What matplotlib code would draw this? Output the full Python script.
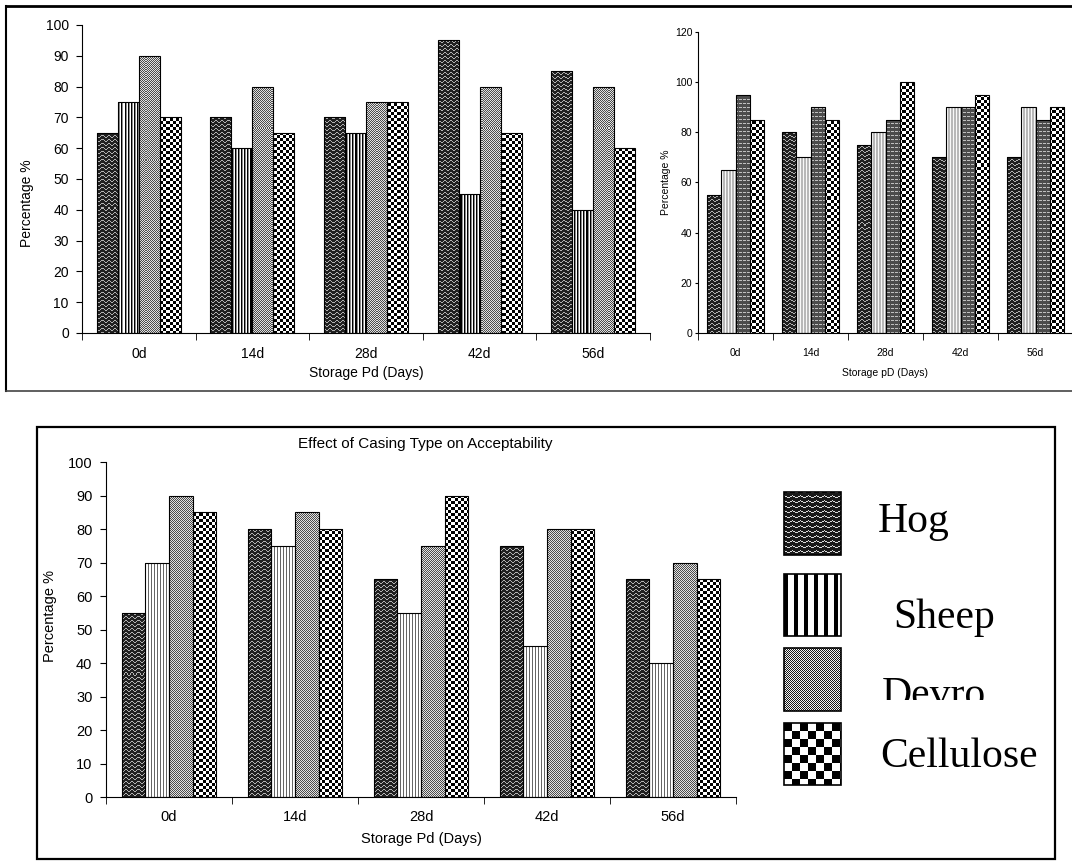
import numpy as np
import matplotlib
matplotlib.use('Agg')
import matplotlib.pyplot as plt
from matplotlib.patches import Rectangle
from matplotlib.lines import Line2D
from matplotlib.transforms import Affine2D, Bbox, TransformedBbox

plt.rcParams['font.family'] = ['Liberation Sans', 'DejaVu Sans']

days = ['0d', '14d', '28d', '42d', '56d']
casings = ['Hog', 'Sheep', 'Devro', 'Cellulose']

# top left chart
hog_a = [65, 70, 70, 95, 85]
sheep_a = [75, 60, 65, 45, 40]
devro_a = [90, 80, 75, 80, 80]
cell_a = [70, 65, 75, 65, 60]

# top right chart
hog_b = [55, 80, 75, 70, 70]
sheep_b = [65, 70, 80, 90, 90]
devro_b = [95, 90, 85, 90, 85]
cell_b = [85, 85, 100, 95, 90]

# bottom chart
hog_c = [55, 80, 65, 75, 65]
sheep_c = [70, 75, 55, 45, 40]
devro_c = [90, 85, 75, 80, 70]
cell_c = [85, 80, 90, 80, 65]

W, H = 1072, 863
fig = plt.figure(figsize=(W / 100, H / 100), dpi=100)
# pixel coords measured from the top left corner
px = Affine2D().scale(1 / W, -1 / H).translate(0, 1) + fig.transFigure


def texture(kind, h, w):
    # grey-level fill patterns like the old excel bar fills
    r, c = np.mgrid[0:h, 0:w]
    if kind == 'wave':
        img = np.full((h, w), 0.13)
        wave = np.round(np.sin(c * 2 * np.pi / 6)).astype(int)
        img[(r + wave) % 4 == 0] = 0.7
    elif kind == 'wave_big':
        img = np.full((h, w), 0.1)
        zig = np.abs((c % 8) - 4) // 2
        img[(r + zig) % 5 == 0] = 0.85
    elif kind == 'vlines':
        img = np.select([c % 3 == 0, c % 3 == 1], [0.0, 0.55], 1.0)
    elif kind == 'vlines_light':
        img = np.where(c % 3 == 0, 0.97, 0.72)
    elif kind == 'vlines_thin':
        img = np.where(c % 3 == 0, 0.4, 1.0)
    elif kind == 'stripes':
        img = np.where(c % 10 < 4, 0.0, 1.0)
    elif kind == 'dots':
        img = np.where((r + c) % 2 == 0, 0.3, 0.88)
    elif kind == 'dots_bw':
        img = np.where((r + c) % 2 == 0, 0.1, 0.95)
    elif kind == 'hdash':
        img = np.full((h, w), 0.3)
        img[(r % 4 == 0) & (c % 4 != 3)] = 0.75
    elif kind == 'checker':
        img = np.where((r // 3 + c // 3) % 2 == 0, 0.0, 1.0)
    elif kind == 'checker_big':
        img = np.where((r // 8 + c // 8) % 2 == 0, 0.0, 1.0)
    else:
        img = np.ones((h, w))
    return img


def draw_chart(rect, series, kinds, ymax, step, xlabel, fs, tick_kw, width=0.185):
    l, t, r, b = rect
    ax = fig.add_axes([l / W, 1 - b / H, (r - l) / W, (b - t) / H])
    n = len(days)
    x = np.arange(n)
    hpx, wpx = b - t, r - l
    ext = (-0.5, n - 0.5, 0, ymax)
    for i, (vals, kind) in enumerate(zip(series, kinds)):
        bars = ax.bar(x + (i - 1.5) * width, vals, width, facecolor='none',
                      edgecolor='black', lw=0.8, zorder=3)
        tex = texture(kind, hpx, wpx)
        for bar in bars:
            im = ax.imshow(tex, cmap='gray', vmin=0, vmax=1, extent=ext,
                           aspect='auto', interpolation='nearest', zorder=2)
            im.set_clip_path(bar)
    ax.set_xlim(-0.5, n - 0.5)
    ax.set_ylim(0, ymax)
    ax.set_xticks(x, days)
    ax.set_xticks(np.arange(n + 1) - 0.5, minor=True)
    ax.set_yticks(np.arange(0, ymax + 1, step))
    ax.tick_params(axis='x', which='major', length=0, pad=tick_kw['xpad'], labelsize=fs)
    ax.tick_params(axis='x', which='minor', length=5, direction='out')
    ax.tick_params(axis='y', length=tick_kw['ylen'], pad=tick_kw['ypad'], labelsize=fs)
    ax.spines[['top', 'right']].set_visible(False)
    ax.set_xlabel(xlabel, fontsize=fs)
    ax.set_ylabel('Percentage %', fontsize=fs)
    ax.xaxis.set_label_coords(0.5, tick_kw['xlab'])
    ax.yaxis.set_label_coords(tick_kw['ylab_x'], tick_kw['ylab_y'])
    return ax


draw_chart((82, 25, 650, 333), [hog_a, sheep_a, devro_a, cell_a],
           ['wave', 'vlines', 'dots', 'checker'], 100, 10, 'Storage Pd (Days)', 10,
           dict(xpad=10, ylen=4, ypad=5.5, xlab=-0.107, ylab_x=-0.085, ylab_y=0.42))

draw_chart((698, 32, 1073, 333), [hog_b, sheep_b, devro_b, cell_b],
           ['wave', 'vlines_light', 'hdash', 'checker'], 120, 20, 'Storage pD (Days)', 7.5,
           dict(xpad=11, ylen=2.5, ypad=1.5, xlab=-0.116, ylab_x=-0.072, ylab_y=0.5),
           width=0.19)

draw_chart((106, 462, 736, 797), [hog_c, sheep_c, devro_c, cell_c],
           ['wave', 'vlines_thin', 'dots', 'checker'], 100, 10, 'Storage Pd (Days)', 10.5,
           dict(xpad=9.5, ylen=4.3, ypad=5.5, xlab=-0.104, ylab_x=-0.078, ylab_y=0.54),
           width=0.1875)

fig.text(425, 444, 'Effect of Casing Type on Acceptability', transform=px,
         ha='center', va='center', fontsize=11)

# frames around the pasted charts
fig.add_artist(Line2D([6, 1072], [6, 6], transform=px, color='black', lw=2))
fig.add_artist(Line2D([6, 6], [6, 391], transform=px, color='black', lw=1.5))
fig.add_artist(Line2D([6, 1072], [391, 391], transform=px, color='#444444', lw=1.2))
fig.add_artist(Rectangle((37, 427), 1018, 432, transform=px, fill=False,
                         edgecolor='black', lw=1.6))

# legend of the bottom chart
leg = fig.add_axes([780 / W, 1 - 795 / H, 270 / W, 310 / H])
leg.set_xlim(780, 1050)
leg.set_ylim(795, 485)
leg.axis('off')
leg_boxes = [(784, 492, 841, 555), (784, 574, 841, 636), (784, 648, 841, 711), (784, 723, 841, 785)]
leg_kinds = ['wave_big', 'stripes', 'dots_bw', 'checker_big']
leg_text = [(878, 532), (893, 628), (882, 706), (880, 767)]
for name, (x0, y0, x1, y1), kind, (tx, ty) in zip(casings, leg_boxes, leg_kinds, leg_text):
    leg.imshow(texture(kind, y1 - y0, x1 - x0), cmap='gray', vmin=0, vmax=1,
               extent=(x0, x1, y1, y0), aspect='auto', interpolation='nearest')
    leg.add_patch(Rectangle((x0, y0), x1 - x0, y1 - y0, fill=False, edgecolor='black', lw=1.2))
    txt = fig.text(tx, ty, name, transform=px, fontsize=30, va='baseline',
                   family=['Liberation Serif', 'DejaVu Serif'])
    if name == 'Devro':
        # the label is cut off along its baseline in the original
        txt.set_clip_box(TransformedBbox(Bbox([[860, 600], [1050, 700]]), px))
leg.set_xlim(780, 1050)
leg.set_ylim(795, 485)

fig.savefig('out.png', dpi=100)
